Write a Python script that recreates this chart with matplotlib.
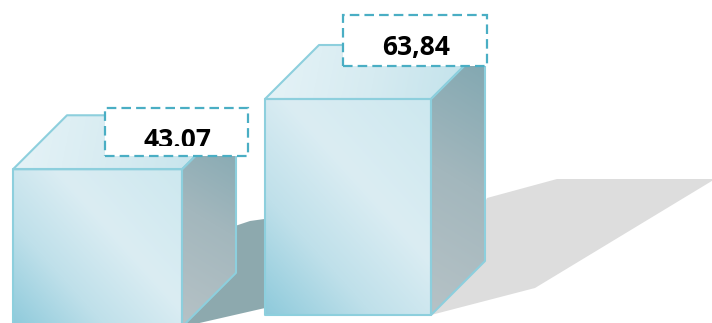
import numpy as np
import matplotlib
matplotlib.use("Agg")
import matplotlib.pyplot as plt
from matplotlib.patches import Polygon, Rectangle
from matplotlib.colors import LinearSegmentedColormap

# ---- data ----
values = [43.07, 63.84]
labels = ["43.07", "63,84"]

# ---- layout (pixel-ish) ----
K = 216 / 63.84            # px per value unit
x_front = [13, 265]
widths = [169, 166]
bases = [-3.5, 0.0]
dx = 54                    # depth, px
dz = 54 / K                # depth, value units

fig = plt.figure(figsize=(7.12, 3.23), dpi=100)
ax = fig.add_axes([0, 0, 1, 1])
ax.set_xlim(0, 712)
ax.set_ylim(-8 / K, 315 / K)
ax.axis('off')


def v(ypx):
    return (315 - ypx) / K


def grad_fill(pts, colors, direction, zorder, stops=None):
    pts = np.asarray(pts, float)
    poly = Polygon(pts, closed=True, facecolor='none', edgecolor='none', zorder=zorder)
    ax.add_patch(poly)
    x0, x1 = pts[:, 0].min(), pts[:, 0].max()
    y0, y1 = pts[:, 1].min(), pts[:, 1].max()
    n = 300
    X, Y = np.meshgrid(np.linspace(0, (x1 - x0), n), np.linspace(0, (y1 - y0) * K, n))
    t = direction[0] * X + direction[1] * Y
    t = (t - t.min()) / (t.max() - t.min())
    if stops is None:
        stops = np.linspace(0, 1, len(colors))
    cmap = LinearSegmentedColormap.from_list('g', list(zip(stops, colors)))
    im = ax.imshow(t, cmap=cmap, extent=[x0, x1, y0, y1], origin='lower',
                   aspect='auto', interpolation='bilinear', zorder=zorder)
    im.set_clip_path(poly)


def shadow(pts_px, color, zorder):
    pts = [(x, v(y)) for x, y in pts_px]
    ax.add_patch(Polygon(pts, closed=True, facecolor=color, edgecolor='none', zorder=zorder))


edge = '#8dcfdd'


def box(i, zorder):
    x = x_front[i]
    w = widths[i]
    b = bases[i]
    top = values[i]
    front = [(x, b), (x + w, b), (x + w, top), (x, top)]
    topf = [(x, top), (x + w, top), (x + w + dx, top + dz), (x + dx, top + dz)]
    side = [(x + w, b), (x + w + dx, b + dz), (x + w + dx, top + dz), (x + w, top)]
    grad_fill(front, ['#8ecadb', '#bfe0ea', '#dbedf3', '#cde8ef'], (1.0, 0.9), zorder,
              stops=[0, 0.3, 0.6, 1])
    grad_fill(topf, ['#e6f3f7', '#d6ebf1', '#bfe1ea'], (1.0, -0.2), zorder)
    grad_fill(side, ['#b6c2c6', '#a3b7bd', '#7ea6b0'], (0.6, 1.0), zorder)
    for p in (front, topf, side):
        ax.add_patch(Polygon(p, closed=True, facecolor='none', edgecolor=edge,
                             lw=1.5, joinstyle='round', zorder=zorder + 0.5))


# left shadow (darker, behind left gap)
shadow([(182, 327), (300, 300), (300, 214), (250, 221), (235, 226)], '#8da9ae', 1)
box(0, 2)
# right shadow
shadow([(431, 315), (535, 288), (730, 170), (730, 179), (557, 179), (487, 198)], '#dddddd', 3)
box(1, 4)

# ---- value labels ----
label_boxes = [(105, 108, 248, 156), (343, 15, 487, 66)]   # px: x0, y0, x1, y1
baselines = [148.5, 55.5]
clip_bottom = [145.5, None]
for i, (bx0, by0, bx1, by1) in enumerate(label_boxes):
    ax.add_patch(Rectangle((bx0, v(by1)), bx1 - bx0, v(by0) - v(by1), facecolor='white',
                           edgecolor='none', zorder=10))
    ax.text((bx0 + bx1) / 2 + 1, v(baselines[i]), labels[i],
            ha='center', va='baseline',
            fontsize=19, fontweight='bold', family=['Open Sans', 'DejaVu Sans'],
            color='black', zorder=11)
    if clip_bottom[i] is not None:
        ax.add_patch(Rectangle((bx0 + 1, v(by1 - 1)), bx1 - bx0 - 2,
                               v(clip_bottom[i]) - v(by1 - 1),
                               facecolor='white', edgecolor='none', zorder=12))
    ax.add_patch(Rectangle((bx0, v(by1)), bx1 - bx0, v(by0) - v(by1), facecolor='none',
                           edgecolor='#4aaec4', lw=1.6, linestyle=(0, (4.3, 2.3)), zorder=13))

fig.savefig('out.png', dpi=100)
